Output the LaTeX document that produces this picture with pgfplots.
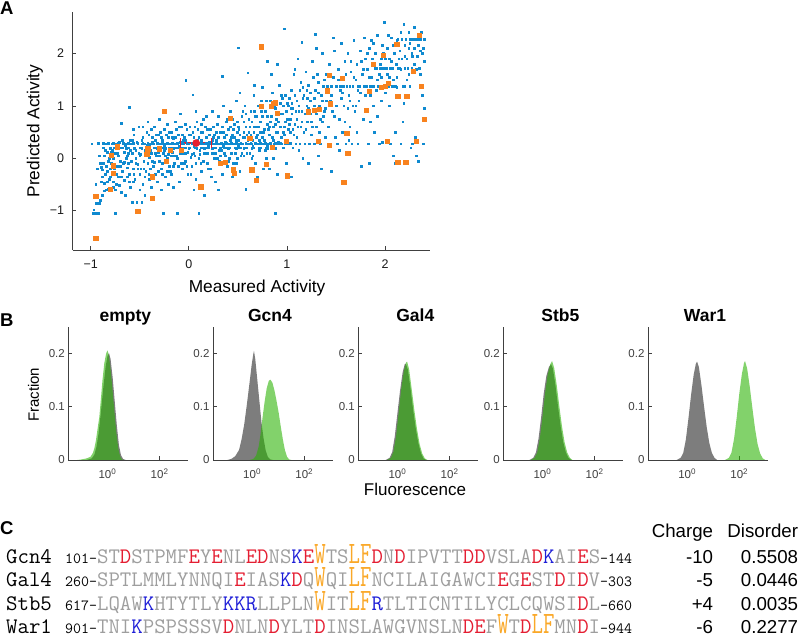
\documentclass[border=0pt]{standalone}
\usepackage{fontspec}
\setmainfont{Liberation Sans}
\usepackage{graphicx}
\usepackage{pgfplots}
\pgfplotsset{compat=1.18}
\definecolor{scblue}{RGB}{15,138,208}
\definecolor{scorange}{RGB}{248,130,30}
\definecolor{scred}{RGB}{230,30,45}
\definecolor{hgray}{RGB}{125,125,125}
\definecolor{hgreen}{RGB}{40,178,0}
\definecolor{sqgray}{RGB}{158,158,158}
\definecolor{sqred}{RGB}{228,30,50}
\definecolor{sqblue}{RGB}{30,30,215}
\definecolor{sqorange}{RGB}{250,168,40}
\newcommand{\R}[1]{\textcolor{sqred}{#1}}
\newcommand{\K}[1]{\textcolor{sqblue}{#1}}
\newcommand{\Y}[1]{\textcolor{sqorange}{\scalebox{1}[1.4]{#1}}}
\newcommand{\seqfont}{\fontsize{22.2}{24}\selectfont\ttfamily}
\newcommand{\numfont}{\fontsize{15.5}{16}\selectfont\ttfamily}
\newcommand{\valfont}{\fontsize{18.7}{20}\selectfont}
\pgfplotsset{
  myax/.style={scale only axis, axis lines*=left,
    axis line style={draw=black!75, line width=0.6pt, -},
    tick style={draw=black!75, line width=0.6pt},
    tick align=inside, major tick length=3.5pt,
    xminorticks=false, yminorticks=false,
    /pgf/number format/assume math mode=true},
  hist/.style={myax, anchor=south west, width=120pt, height=133pt,
    xmin=-1.5, xmax=3.1, ymin=0, ymax=0.25,
    xtick={0,2}, xticklabels={10\textsuperscript{0},10\textsuperscript{2}},
    ytick={0,0.1,0.2}, yticklabels={0,0.1,0.2},
    ticklabel style={font=\fontsize{11.5}{12}\selectfont, text=black!75},
    xticklabel style={yshift=-5pt},
    title style={font=\bfseries\fontsize{17.5}{18}\selectfont, at={(axis description cs:0.5,1)}, anchor=base, xshift=-3pt, yshift=-1pt}},
  grayfill/.style={draw=none, fill=hgray},
  greenfill/.style={draw=none, fill=hgreen, fill opacity=0.58},
}
\begin{document}
\begin{tikzpicture}[x=1pt,y=1pt]
\useasboundingbox (0pt,0pt) rectangle (800pt,637pt);
% ---------------- Panel A ----------------
\begin{axis}[myax, at={(72.7pt,387pt)}, anchor=south west, width=357.3pt, height=238pt,
  xmin=-1.183, xmax=2.458, ymin=-1.75, ymax=2.79,
  xtick={-1,0,1,2}, xticklabels={−1,0,1,2},
  ytick={-1,0,1,2}, yticklabels={−1,0,1,2},
  ticklabel style={font=\fontsize{12.5}{13}\selectfont, text=black!90},
  xticklabel style={yshift=-6pt}, yticklabel style={xshift=-5pt},
  xlabel={Measured Activity}, ylabel={Predicted Activity},
  label style={font=\fontsize{17.3}{18}\selectfont},
  xlabel style={at={(axis description cs:0.516,-0.177)}, anchor=base},
  ylabel style={at={(axis description cs:-0.1056,0.5)}, anchor=center}]
\addplot[only marks, mark=square*, mark size=0.85pt, scblue] coordinates {
(-0.99,0.28) (-0.98,-1.05) (-0.96,-1.05) (-0.94,-1.05) (-0.92,-1.05) (-0.97,-0.98) (-0.95,-0.86) (-0.93,-0.86) (-0.91,-0.86) (-0.9,-0.8) (-0.88,-0.7) (-0.86,-0.62) (-0.84,-0.6) (-0.82,-0.58) (-0.89,-0.17) (-0.9,-0.1) (-0.88,-0.22) (-0.86,0.05) (-0.87,0.2) (-0.85,-0.3) (-0.84,-0.15) (-0.83,0.12) (-0.82,-0.05) (-0.81,-0.4) (-0.8,-0.2) (-0.85,0.28) (-0.82,0.28) (-0.8,0.2) (-0.81,0.0) (-0.83,-0.45)
(-0.79,-0.1) (-0.78,-0.28) (-0.77,-0.45) (-0.76,0.1) (-0.75,-1.05) (-0.75,-0.6) (-0.74,0.28) (-0.73,-0.15) (-0.72,0.05) (-0.72,-0.35) (-0.71,-0.52) (-0.7,0.2) (-0.7,-0.05) (-0.69,0.67) (-0.68,-0.25) (-0.67,0.28) (-0.66,0.12) (-0.66,-0.42) (-0.65,-0.7) (-0.64,0.0) (-0.63,-0.18) (-0.62,0.2) (-0.61,0.97) (-0.61,-0.3) (-0.6,0.35) (-0.6,-0.55) (-0.78,0.28) (-0.76,0.2) (-0.72,0.2) (-0.68,0.2) (-0.64,0.28) (-0.62,-0.1) (-0.77,0.0) (-0.69,-0.65)
(-0.59,0.28) (-0.58,-0.84) (-0.58,0.1) (-0.57,-0.2) (-0.56,0.45) (-0.55,-0.4) (-0.55,0.2) (-0.54,0.0) (-0.53,-0.84) (-0.53,0.3) (-0.52,-0.12) (-0.51,0.6) (-0.5,-0.3) (-0.5,0.2) (-0.49,0.08) (-0.48,-0.84) (-0.48,0.35) (-0.47,-0.5) (-0.46,-0.05) (-0.45,0.28) (-0.45,0.15) (-0.44,-0.25) (-0.43,0.5) (-0.42,-0.1) (-0.42,0.7) (-0.41,0.2) (-0.4,-0.4) (-0.4,0.02) (-0.56,0.28) (-0.52,0.28) (-0.48,0.28) (-0.44,0.2) (-0.6,0.15) (-0.5,-0.6) (-0.45,-0.7) (-0.57,0.55)
(-0.39,0.28) (-0.38,0.1) (-0.38,-0.55) (-0.37,0.4) (-0.36,-0.15) (-0.35,0.2) (-0.35,0.6) (-0.34,-0.3) (-0.33,0.05) (-0.32,0.28) (-0.32,-0.45) (-0.31,0.45) (-0.3,-0.05) (-0.3,0.75) (-0.29,0.2) (-0.28,-0.2) (-0.27,0.35) (-0.26,-1.05) (-0.26,0.1) (-0.25,0.55) (-0.24,-0.35) (-0.23,0.28) (-0.22,0.0) (-0.21,0.4) (-0.2,-0.15) (-0.2,0.2) (-0.36,0.28) (-0.33,0.2) (-0.29,0.28) (-0.26,0.2) (-0.24,0.28) (-0.37,-0.05) (-0.28,-0.6) (-0.22,0.65) (-0.31,0.12) (-0.21,-0.5)
(-0.19,0.28) (-0.18,0.5) (-0.18,-0.3) (-0.17,0.12) (-0.16,0.38) (-0.15,-0.1) (-0.15,0.2) (-0.14,0.7) (-0.13,0.28) (-0.12,-1.05) (-0.12,0.0) (-0.11,0.45) (-0.1,-0.45) (-0.1,0.2) (-0.09,0.3) (-0.08,0.6) (-0.07,-0.2) (-0.07,0.1) (-0.06,0.28) (-0.05,0.4) (-0.04,-0.05) (-0.03,1.49) (-0.03,0.2) (-0.02,0.55) (-0.01,-0.3) (0.0,0.28) (-0.17,0.2) (-0.14,0.28) (-0.11,0.2) (-0.08,0.2) (-0.05,0.2) (-0.02,0.28) (-0.16,-0.55) (-0.09,0.85) (-0.04,0.1) (-0.13,0.05)
(0.01,0.2) (0.02,0.45) (0.03,-0.15) (0.04,1.21) (0.04,0.28) (0.05,0.1) (0.06,0.6) (0.07,-0.4) (0.08,0.2) (0.09,0.35) (0.1,-1.05) (0.1,0.0) (0.11,0.28) (0.12,0.5) (0.13,-0.25) (0.14,0.2) (0.15,0.75) (0.16,-0.7) (0.16,0.28) (0.17,0.1) (0.18,0.4) (0.19,-0.1) (0.2,0.2) (0.03,0.28) (0.06,0.2) (0.09,0.28) (0.12,0.2) (0.15,0.28) (0.18,0.2) (0.2,0.28) (0.07,0.9) (0.13,0.65) (0.05,-0.6) (0.19,0.55) (0.11,0.08) (0.02,0.02)
(0.21,0.45) (0.22,-0.2) (0.23,0.28) (0.24,0.1) (0.25,0.6) (0.26,0.2) (0.27,-0.45) (0.28,0.35) (0.29,0.0) (0.3,0.8) (0.31,0.28) (0.32,0.5) (0.33,0.15) (0.34,1.56) (0.34,-0.3) (0.35,0.28) (0.36,0.4) (0.37,0.05) (0.38,0.7) (0.38,0.2) (0.39,-0.15) (0.4,0.55) (0.4,0.28) (0.22,0.28) (0.25,0.28) (0.27,0.2) (0.29,0.28) (0.32,0.2) (0.33,0.28) (0.36,0.2) (0.38,0.28) (0.24,0.9) (0.3,-0.6) (0.35,1.0) (0.26,0.45) (0.31,-0.05)
(0.41,0.2) (0.42,0.9) (0.43,0.1) (0.44,0.45) (0.45,-0.1) (0.45,0.28) (0.46,0.65) (0.47,0.2) (0.48,1.1) (0.48,0.35) (0.49,0.0) (0.5,2.11) (0.5,0.28) (0.51,0.55) (0.52,-0.25) (0.53,0.2) (0.54,0.8) (0.55,0.4) (0.55,0.28) (0.56,0.05) (0.57,1.0) (0.58,-0.59) (0.58,0.6) (0.59,0.2) (0.6,1.63) (0.6,0.28) (0.43,0.28) (0.47,0.28) (0.51,0.2) (0.53,0.28) (0.57,0.2) (0.44,-0.35) (0.52,1.25) (0.56,0.7) (0.49,0.5) (0.59,0.45) (0.42,0.6)
(0.61,0.5) (0.62,0.1) (0.63,0.9) (0.64,0.28) (0.65,0.35) (0.66,1.2) (0.66,0.2) (0.67,0.6) (0.68,-0.1) (0.69,0.8) (0.7,0.28) (0.7,0.45) (0.71,1.0) (0.72,0.15) (0.73,0.7) (0.74,0.28) (0.75,1.35) (0.75,0.4) (0.76,-0.2) (0.77,0.55) (0.78,0.9) (0.78,0.28) (0.79,0.2) (0.8,1.85) (0.8,0.65) (0.62,0.28) (0.68,0.28) (0.72,0.28) (0.76,0.28) (0.64,0.7) (0.7,-0.35) (0.74,1.1) (0.79,0.0) (0.67,1.4) (0.73,0.5)
(0.81,0.28) (0.82,0.45) (0.83,1.1) (0.84,0.8) (0.85,0.2) (0.85,1.25) (0.86,0.6) (0.87,0.28) (0.88,-1.05) (0.88,0.95) (0.89,0.5) (0.9,1.8) (0.9,-0.3) (0.91,0.7) (0.92,0.28) (0.93,1.05) (0.94,0.4) (0.95,0.85) (0.96,0.2) (0.97,2.47) (0.97,0.6) (0.98,1.2) (0.99,0.28) (1.0,0.75) (0.83,0.28) (0.86,0.0) (0.89,0.28) (0.94,0.28) (0.92,1.4) (0.84,1.6) (0.96,1.0) (0.99,-0.1) (0.82,-0.2)
(1.01,1.0) (1.02,0.28) (1.03,0.5) (1.04,1.3) (1.05,0.85) (1.06,0.2) (1.07,1.6) (1.08,0.65) (1.09,0.28) (1.1,1.1) (1.1,0.4) (1.11,1.9) (1.12,0.9) (1.13,0.28) (1.14,1.45) (1.15,2.21) (1.15,0.7) (1.16,0.0) (1.17,1.2) (1.18,0.28) (1.19,0.55) (1.2,1.0) (1.04,-0.35) (1.08,1.7) (1.12,0.15) (1.16,1.35) (1.02,1.15) (1.19,1.65) (1.06,0.95)
(1.21,0.7) (1.22,1.4) (1.23,0.28) (1.24,1.1) (1.25,0.45) (1.26,1.85) (1.27,0.9) (1.28,0.28) (1.29,2.36) (1.29,1.3) (1.3,0.6) (1.31,1.6) (1.32,0.05) (1.33,1.0) (1.34,0.28) (1.35,1.2) (1.36,2.0) (1.37,0.8) (1.38,1.5) (1.39,0.4) (1.4,1.1) (1.22,-0.1) (1.27,1.55) (1.33,0.5) (1.37,1.38) (1.24,0.85) (1.3,2.1) (1.39,0.95) (1.35,-0.2)
(1.41,1.38) (1.42,0.6) (1.43,1.8) (1.44,0.28) (1.45,1.2) (1.46,0.9) (1.47,1.55) (1.48,2.05) (1.49,0.4) (1.5,1.38) (1.5,1.0) (1.51,0.28) (1.52,1.7) (1.53,0.75) (1.54,1.3) (1.55,2.2) (1.56,0.5) (1.57,1.38) (1.58,1.0) (1.59,1.85) (1.6,0.28) (1.45,-0.25) (1.53,0.15) (1.58,1.55) (1.43,1.0) (1.47,2.3) (1.55,1.15) (1.42,1.25) (1.59,0.7)
(1.61,1.38) (1.62,2.0) (1.63,1.2) (1.64,0.6) (1.65,1.65) (1.66,0.28) (1.67,1.38) (1.68,2.25) (1.69,0.9) (1.7,1.5) (1.71,1.8) (1.72,0.28) (1.73,1.1) (1.74,1.38) (1.75,2.05) (1.76,-0.15) (1.77,1.6) (1.78,0.75) (1.79,1.38) (1.8,1.9) (1.63,0.35) (1.67,1.0) (1.71,0.5) (1.75,1.25) (1.79,2.3) (1.65,1.85) (1.7,1.0) (1.78,1.7) (1.62,0.95)
(1.81,1.38) (1.82,1.7) (1.83,0.28) (1.84,2.1) (1.85,1.2) (1.86,1.55) (1.87,1.9) (1.88,1.38) (1.89,0.5) (1.9,2.0) (1.9,1.72) (1.91,1.3) (1.92,2.35) (1.93,1.38) (1.94,0.28) (1.95,1.8) (1.96,1.1) (1.97,2.15) (1.98,1.72) (1.99,2.6) (1.99,1.38) (2.0,1.9) (1.84,-0.1) (1.88,1.0) (1.92,0.8) (1.96,1.55) (1.82,2.0) (1.86,2.25) (1.94,1.6) (1.98,2.0) (1.85,0.7) (1.91,1.72) (1.97,0.3)
(2.01,1.72) (2.02,2.1) (2.03,1.38) (2.04,1.9) (2.05,0.28) (2.06,2.3) (2.07,1.72) (2.08,1.5) (2.09,2.0) (2.1,1.38) (2.1,0.5) (2.11,1.8) (2.12,2.25) (2.13,1.72) (2.14,1.2) (2.15,2.05) (2.16,0.28) (2.17,1.9) (2.18,1.38) (2.19,2.56) (2.2,1.72) (2.2,2.15) (2.04,1.0) (2.08,0.05) (2.12,1.55) (2.16,2.4) (2.18,0.7) (2.02,1.6) (2.06,1.85) (2.14,1.9) (2.1,-0.1) (2.19,1.05) (2.03,2.35)
(2.21,2.27) (2.22,1.9) (2.23,1.72) (2.24,2.1) (2.25,1.38) (2.26,2.27) (2.27,2.0) (2.28,0.28) (2.29,2.27) (2.3,1.8) (2.3,2.5) (2.31,0.4) (2.32,2.27) (2.33,1.95) (2.34,2.15) (2.35,1.72) (2.36,2.27) (2.37,2.4) (2.38,1.2) (2.38,2.0) (2.39,0.28) (2.4,2.27) (2.4,0.95) (2.22,1.5) (2.26,0.2) (2.3,2.1) (2.34,-0.05) (2.36,1.6) (2.24,2.4) (2.28,1.95) (2.32,0.05) (2.39,2.1) (2.35,2.3) (2.25,2.2)
(-0.88,-0.35) (-0.86,-0.48) (-0.83,-0.25) (-0.79,0.12) (-0.77,-0.55) (-0.74,-0.3) (-0.73,0.1) (-0.7,-0.15) (-0.68,0.35) (-0.66,-0.08) (-0.63,-0.35) (-0.62,0.1) (-0.59,-0.05) (-0.57,-0.45) (-0.54,0.15) (-0.52,-0.2) (-0.5,0.05) (-0.47,0.4) (-0.46,-0.2) (-0.44,0.1) (-0.41,-0.3) (-0.39,0.15) (-0.38,0.55) (-0.35,-0.08) (-0.34,0.35) (-0.31,-0.25) (-0.29,0.5) (-0.27,-0.1) (-0.25,0.15) (-0.23,0.45) (-0.21,0.08) (-0.19,-0.25) (-0.17,0.4) (-0.15,0.05) (-0.13,0.55) (-0.11,-0.15) (-0.09,0.1) (-0.07,0.45) (-0.05,-0.1) (-0.03,0.35) (-0.01,0.12) (0.01,0.6) (0.03,0.08) (0.05,0.4) (0.07,-0.1) (0.09,0.55) (0.11,0.15) (0.13,0.35) (0.15,-0.05) (0.17,0.6) (0.19,0.1) (0.21,0.3) (0.23,-0.35) (0.25,0.4) (0.27,0.1) (0.29,0.65) (0.31,0.15) (0.33,-0.1) (0.35,0.5) (0.37,0.3) (0.39,0.75) (0.41,0.0) (0.43,0.4) (0.45,0.55) (0.47,0.1) (0.49,0.7) (0.51,0.35) (0.53,0.05) (0.55,0.9) (0.57,0.4) (0.59,0.1) (0.61,0.75) (0.63,0.45) (0.65,0.05) (0.67,0.9) (0.69,0.4) (0.71,0.6) (0.73,0.2) (0.75,0.8) (0.77,0.35) (0.79,1.1) (0.81,0.55) (0.83,0.7) (0.85,0.4) (0.87,1.0) (0.89,0.75) (0.91,0.3) (0.93,0.6) (0.95,1.15) (0.97,0.45) (0.99,0.9) (1.01,0.55) (1.03,0.75) (1.05,1.05) (1.07,0.45) (1.09,0.9) (1.11,0.6) (1.13,1.3) (1.15,0.9) (1.17,0.5)
(1.21,1.15) (1.25,0.7) (1.28,1.0) (1.32,1.45) (1.36,0.7) (1.4,1.6) (1.44,1.1) (1.48,0.8) (1.52,1.5) (1.56,1.25) (1.6,1.6) (1.64,1.1) (1.68,1.55) (1.72,1.3) (1.76,1.85) (1.8,1.2) (1.84,1.55) (1.88,2.2) (1.92,1.5) (1.96,1.9) (2.0,1.25) (2.04,1.55) (2.08,2.15) (2.12,1.35) (2.16,1.7) (2.2,1.95) (2.24,1.6) (2.28,2.27) (2.32,1.7) (2.36,2.05) (2.4,1.85) (2.13,2.27) (2.17,2.27) (2.25,2.27) (2.33,2.27) (1.95,1.72) (2.05,1.72) (2.15,1.72) (2.27,1.72) (1.45,1.38) (1.54,1.38) (1.64,1.38) (1.72,1.38) (1.85,1.38) (1.97,1.38) (2.07,1.38) (2.2,1.38)
(-0.95,-0.5) (-0.93,-0.2) (-0.91,0.05) (-0.89,-0.45) (-0.87,-0.1) (-0.85,0.15) (-0.8,-0.35) (-0.78,0.15) (-0.76,-0.2) (-0.74,-0.5) (-0.71,0.3) (-0.69,-0.35) (-0.67,-0.1) (-0.65,0.25) (-0.63,0.05) (-0.61,-0.45) (-0.58,0.35) (-0.56,-0.3) (-0.54,-0.1) (-0.51,0.1) (-0.49,-0.2) (-0.47,0.6) (-0.45,-0.35) (-0.43,0.25) (-0.41,0.45) (-0.39,-0.2) (-0.37,0.3) (-0.34,0.1) (-0.33,0.45) (-0.3,0.05) (-0.28,0.4) (-0.27,-0.3) (-0.24,0.05) (-0.22,-0.25) (-0.2,0.5) (-0.18,0.05) (-0.16,-0.15) (-0.14,0.4) (-0.12,0.2) (-0.1,0.6) (-0.08,-0.1) (-0.06,0.35) (-0.04,0.65) (-0.02,-0.15) (0.0,0.45) (0.02,-0.3) (0.04,0.5) (0.06,0.05) (0.08,0.7) (0.1,0.4) (0.12,-0.1) (0.14,0.5) (0.16,0.1) (0.18,0.8) (0.2,-0.2) (0.22,0.55) (0.24,0.35) (0.26,0.0) (0.28,0.5) (0.3,0.4) (0.32,0.05) (0.34,0.6) (0.36,0.1) (0.38,0.45) (0.4,-0.05) (0.42,0.35) (0.44,0.75) (0.46,0.4) (0.48,-0.1) (0.5,0.6) (0.52,0.45) (0.54,0.1) (0.56,0.5) (0.58,0.85) (0.6,0.35) (0.62,0.6) (0.64,0.0) (0.66,0.5) (0.68,0.8) (0.7,0.6) (0.72,0.35) (0.74,0.9) (0.76,0.5) (0.78,0.15) (0.8,0.8) (0.82,0.6) (0.84,1.0) (0.86,0.35) (0.88,0.65) (0.9,0.5) (0.92,0.85) (0.94,1.2) (0.96,0.5) (0.98,0.7) (1.0,1.05) (1.02,0.65) (1.04,0.95) (1.06,0.55) (1.08,1.2) (1.1,0.75) (1.12,1.0) (1.14,0.6) (1.16,1.15) (1.18,0.85) (1.2,1.3) (1.22,0.95) (1.24,1.25) (1.26,0.6) (1.28,1.15) (1.3,0.85) (1.32,1.25) (1.34,0.75) (1.36,1.1) (1.38,0.9) (1.4,1.3)
(-0.92,0.286) (-0.87,0.286) (-0.82,0.286) (-0.77,0.286) (-0.72,0.286) (-0.67,0.286) (-0.62,0.286) (-0.57,0.286) (-0.52,0.286) (-0.47,0.286) (-0.42,0.286) (-0.37,0.286) (-0.32,0.286) (-0.27,0.286) (-0.22,0.286) (-0.17,0.286) (-0.12,0.286) (-0.07,0.286) (-0.02,0.286) (0.03,0.286) (0.08,0.286) (0.13,0.286) (0.18,0.286) (0.23,0.286) (0.28,0.286) (0.33,0.286) (0.38,0.286) (0.43,0.286) (0.48,0.286) (0.53,0.286) (0.58,0.286) (0.63,0.286) (0.68,0.286) (0.73,0.286) (0.78,0.286) (0.83,0.286) (0.88,0.286) (0.93,0.286) (0.98,0.286) (1.03,0.286)
(-0.8,0.19) (-0.72,0.19) (-0.64,0.19) (-0.56,0.19) (-0.48,0.19) (-0.4,0.19) (-0.32,0.19) (-0.24,0.19) (-0.16,0.19) (-0.08,0.19) (0.0,0.19) (0.08,0.19) (0.16,0.19) (0.24,0.19) (0.32,0.19) (0.4,0.19) (0.48,0.19) (0.56,0.19) (0.64,0.19) (0.72,0.19) (0.8,0.19) (0.88,0.19)
(-0.4,0.235) (-0.25,0.235) (-0.1,0.235) (0.05,0.235) (0.2,0.235) (0.35,0.235) (0.5,0.235) (0.65,0.235) (0.8,0.235)
};
\addplot[only marks, mark=square*, mark size=2.15pt, scorange] coordinates {
(-0.95,-0.73) (-0.95,-1.52) (-0.79,0.06) (-0.73,0.22) (-0.77,-0.14) (-0.77,-0.29) (-0.80,-0.59) (-0.52,-1.01) (-0.43,0.08) (-0.42,0.18) (-0.37,-0.76) (-0.37,-0.35) (-0.30,0.18) (-0.25,0.90) (-0.23,-0.06) (-0.19,0.15) (-0.08,0.16) (0.12,-0.54) (0.32,-0.10) (0.37,-0.08) (0.42,0.76) (0.45,-0.22) (0.46,-0.29) (0.62,0.38) (0.64,-0.22) (0.69,-0.42) (0.74,2.13) (0.74,0.99) (0.79,-0.12) (0.84,0.99) (0.86,1.05) (0.88,1.06) (0.85,0.21) (0.90,0.86) (0.99,0.32) (1.00,-0.33) (1.22,0.89) (1.28,0.92) (1.33,0.94) (1.32,0.33) (1.41,1.29) (1.43,1.58) (1.44,1.04) (1.43,0.25) (1.56,1.53) (1.58,-0.46) (1.61,0.48) (1.62,0.10) (1.81,0.92) (1.84,1.28) (1.88,1.79) (1.98,1.96) (1.96,1.35) (2.00,1.38) (2.03,1.43) (2.02,0.32) (2.12,2.17) (2.13,1.18) (2.13,-0.08) (2.22,1.18) (2.21,-0.08) (2.29,1.66) (2.35,2.35) (2.37,1.37) (2.40,0.74) (2.32,0.32)
};
\addplot[scred, line width=1.3pt, mark=|, mark size=5pt, mark options={line width=1.1pt}] coordinates {(-0.085,0.29) (0.235,0.29)};
\addplot[only marks, mark=*, mark size=3.6pt, scred] coordinates {(0.075,0.29)};
\end{axis}
% ---------------- Panel B ----------------
\begin{axis}[hist, at={(68.3pt,177pt)}, title={empty},
  ylabel={Fraction}, ylabel style={font=\fontsize{15}{16}\selectfont, at={(axis description cs:-0.29,0.49)}, anchor=center}]
\addplot[grayfill] coordinates {(-0.8,0) (-0.6,0.003) (-0.5,0.01) (-0.42,0.025) (-0.34,0.05) (-0.25,0.09) (-0.16,0.135) (-0.07,0.175) (0.0,0.195) (0.06,0.201) (0.12,0.19) (0.2,0.155) (0.28,0.11) (0.36,0.065) (0.44,0.028) (0.52,0.009) (0.6,0.002) (0.7,0)} \closedcycle;
\addplot[greenfill] coordinates {(-1.15,0) (-1.0,0.001) (-0.8,0.003) (-0.65,0.006) (-0.56,0.013) (-0.5,0.022) (-0.44,0.037) (-0.38,0.058) (-0.31,0.081) (-0.25,0.115) (-0.19,0.15) (-0.12,0.182) (-0.05,0.2) (0.0,0.206) (0.04,0.2) (0.1,0.18) (0.18,0.14) (0.26,0.095) (0.34,0.052) (0.42,0.02) (0.5,0.005) (0.56,0.001) (0.62,0)} \closedcycle;
\end{axis}
\begin{axis}[hist, at={(213pt,177pt)}, title={Gcn4}]
\addplot[grayfill] coordinates {(-0.95,0) (-0.8,0.002) (-0.65,0.007) (-0.5,0.019) (-0.4,0.04) (-0.3,0.068) (-0.2,0.105) (-0.1,0.145) (-0.02,0.178) (0.04,0.198) (0.07,0.205) (0.12,0.19) (0.2,0.15) (0.28,0.11) (0.36,0.07) (0.44,0.04) (0.52,0.018) (0.6,0.006) (0.7,0.001) (0.8,0)} \closedcycle;
\addplot[greenfill] coordinates {(-0.1,0) (0.05,0.002) (0.15,0.008) (0.25,0.025) (0.32,0.048) (0.4,0.08) (0.48,0.11) (0.56,0.135) (0.64,0.149) (0.7,0.151) (0.78,0.145) (0.86,0.13) (0.94,0.11) (1.02,0.088) (1.1,0.062) (1.18,0.038) (1.26,0.018) (1.34,0.006) (1.42,0.001) (1.5,0)} \closedcycle;
\end{axis}
\begin{axis}[hist, at={(358.3pt,177pt)}, title={Gal4},
  xlabel={Fluorescence}, xlabel style={font=\fontsize{17}{18}\selectfont, at={(axis description cs:0.4725,-0.268)}, anchor=base}]
\addplot[grayfill] coordinates {(-0.45,0) (-0.3,0.004) (-0.2,0.015) (-0.1,0.045) (0.0,0.088) (0.1,0.13) (0.2,0.165) (0.28,0.18) (0.32,0.181) (0.4,0.17) (0.5,0.135) (0.6,0.095) (0.7,0.06) (0.8,0.032) (0.9,0.013) (1.0,0.003) (1.1,0)} \closedcycle;
\addplot[greenfill] coordinates {(-0.4,0) (-0.25,0.004) (-0.15,0.016) (-0.05,0.045) (0.05,0.09) (0.15,0.135) (0.25,0.168) (0.33,0.183) (0.37,0.185) (0.45,0.17) (0.55,0.132) (0.65,0.093) (0.75,0.058) (0.85,0.03) (0.95,0.012) (1.05,0.003) (1.15,0)} \closedcycle;
\end{axis}
\begin{axis}[hist, at={(503.3pt,177pt)}, title={Stb5}]
\addplot[grayfill] coordinates {(-0.5,0) (-0.35,0.004) (-0.25,0.014) (-0.15,0.04) (-0.05,0.08) (0.05,0.125) (0.15,0.158) (0.25,0.175) (0.33,0.18) (0.4,0.172) (0.5,0.14) (0.6,0.1) (0.7,0.063) (0.8,0.033) (0.9,0.014) (1.0,0.004) (1.1,0)} \closedcycle;
\addplot[greenfill] coordinates {(-0.45,0) (-0.3,0.004) (-0.2,0.014) (-0.1,0.04) (0.0,0.08) (0.1,0.125) (0.2,0.16) (0.3,0.18) (0.37,0.186) (0.45,0.173) (0.55,0.14) (0.65,0.1) (0.75,0.063) (0.85,0.033) (0.95,0.014) (1.05,0.004) (1.15,0)} \closedcycle;
\end{axis}
\begin{axis}[hist, at={(648pt,177pt)}, title={War1}]
\addplot[grayfill] coordinates {(-0.4,0) (-0.25,0.004) (-0.15,0.013) (-0.05,0.038) (0.05,0.078) (0.15,0.122) (0.25,0.16) (0.33,0.18) (0.38,0.185) (0.45,0.175) (0.55,0.14) (0.65,0.1) (0.75,0.062) (0.85,0.032) (0.95,0.013) (1.05,0.004) (1.15,0)} \closedcycle;
\addplot[greenfill] coordinates {(1.45,0) (1.6,0.004) (1.7,0.014) (1.8,0.04) (1.9,0.08) (2.0,0.125) (2.1,0.162) (2.18,0.182) (2.22,0.186) (2.3,0.172) (2.4,0.138) (2.5,0.098) (2.6,0.06) (2.7,0.03) (2.8,0.012) (2.9,0.003) (3.0,0)} \closedcycle;
\end{axis}
% ---------------- Panel letters ----------------
\node[anchor=base west, inner sep=0, font=\bfseries\fontsize{18.5}{19}\selectfont] at (0pt,622pt) {A};
\node[anchor=base west, inner sep=0, font=\bfseries\fontsize{18.5}{19}\selectfont] at (0pt,310pt) {B};
\node[anchor=base west, inner sep=0, font=\bfseries\fontsize{18.5}{19}\selectfont] at (0pt,102pt) {C};
% ---------------- Panel C ----------------
\node[anchor=base west, inner sep=0] at (6pt,73.5pt) {\seqfont Gcn4};
\node[anchor=base west, inner sep=0] at (6pt,50pt) {\seqfont Gal4};
\node[anchor=base west, inner sep=0] at (6pt,26.7pt) {\seqfont Stb5};
\node[anchor=base west, inner sep=0] at (6pt,3.5pt) {\seqfont War1};
\node[anchor=base west, inner sep=0] at (65pt,73.5pt) {\numfont 101-{\seqfont\color{sqgray}ST\R{D}STPMF\R{E}Y\R{E}NL\R{ED}NS\K{K}\R{E}\Y{W}TS\Y{LF}\R{D}N\R{D}IPVTT\R{DD}VSLA\R{D}\K{K}AI\R{E}S}\numfont -144};
\node[anchor=base west, inner sep=0] at (65pt,50pt) {\numfont 260-{\seqfont\color{sqgray}SPTLMMLYNNQI\R{E}IAS\K{K}\R{D}Q\Y{W}QI\Y{LF}NCILAIGAWCI\R{E}G\R{E}ST\R{D}I\R{D}V}\numfont -303};
\node[anchor=base west, inner sep=0] at (65pt,26.7pt) {\numfont 617-{\seqfont\color{sqgray}LQAW\K{K}HTYTLY\K{KKR}LLPLN\Y{W}IT\Y{LF}\K{R}TLTICNTILYCLCQWSI\R{D}L}\numfont -660};
\node[anchor=base west, inner sep=0] at (65pt,3.5pt) {\numfont 901-{\seqfont\color{sqgray}TNI\K{K}PSPSSSV\R{D}NLN\R{D}YLT\R{D}INSLAWGVNSLN\R{DE}F\Y{W}T\R{D}\Y{LF}MN\R{D}I}\numfont -944};
\node[anchor=base east, inner sep=0, font=\valfont] at (713.3pt,99pt) {Charge};
\node[anchor=base east, inner sep=0, font=\valfont] at (798.3pt,99pt) {Disorder};
\node[anchor=base east, inner sep=0, font=\valfont] at (713.3pt,73.5pt) {-10};
\node[anchor=base east, inner sep=0, font=\valfont] at (713.3pt,50pt) {-5};
\node[anchor=base east, inner sep=0, font=\valfont] at (713.3pt,26.7pt) {+4};
\node[anchor=base east, inner sep=0, font=\valfont] at (713.3pt,3.5pt) {-6};
\node[anchor=base east, inner sep=0, font=\valfont] at (798.3pt,73.5pt) {0.5508};
\node[anchor=base east, inner sep=0, font=\valfont] at (798.3pt,50pt) {0.0446};
\node[anchor=base east, inner sep=0, font=\valfont] at (798.3pt,26.7pt) {0.0035};
\node[anchor=base east, inner sep=0, font=\valfont] at (798.3pt,3.5pt) {0.2277};
\end{tikzpicture}
\end{document}
